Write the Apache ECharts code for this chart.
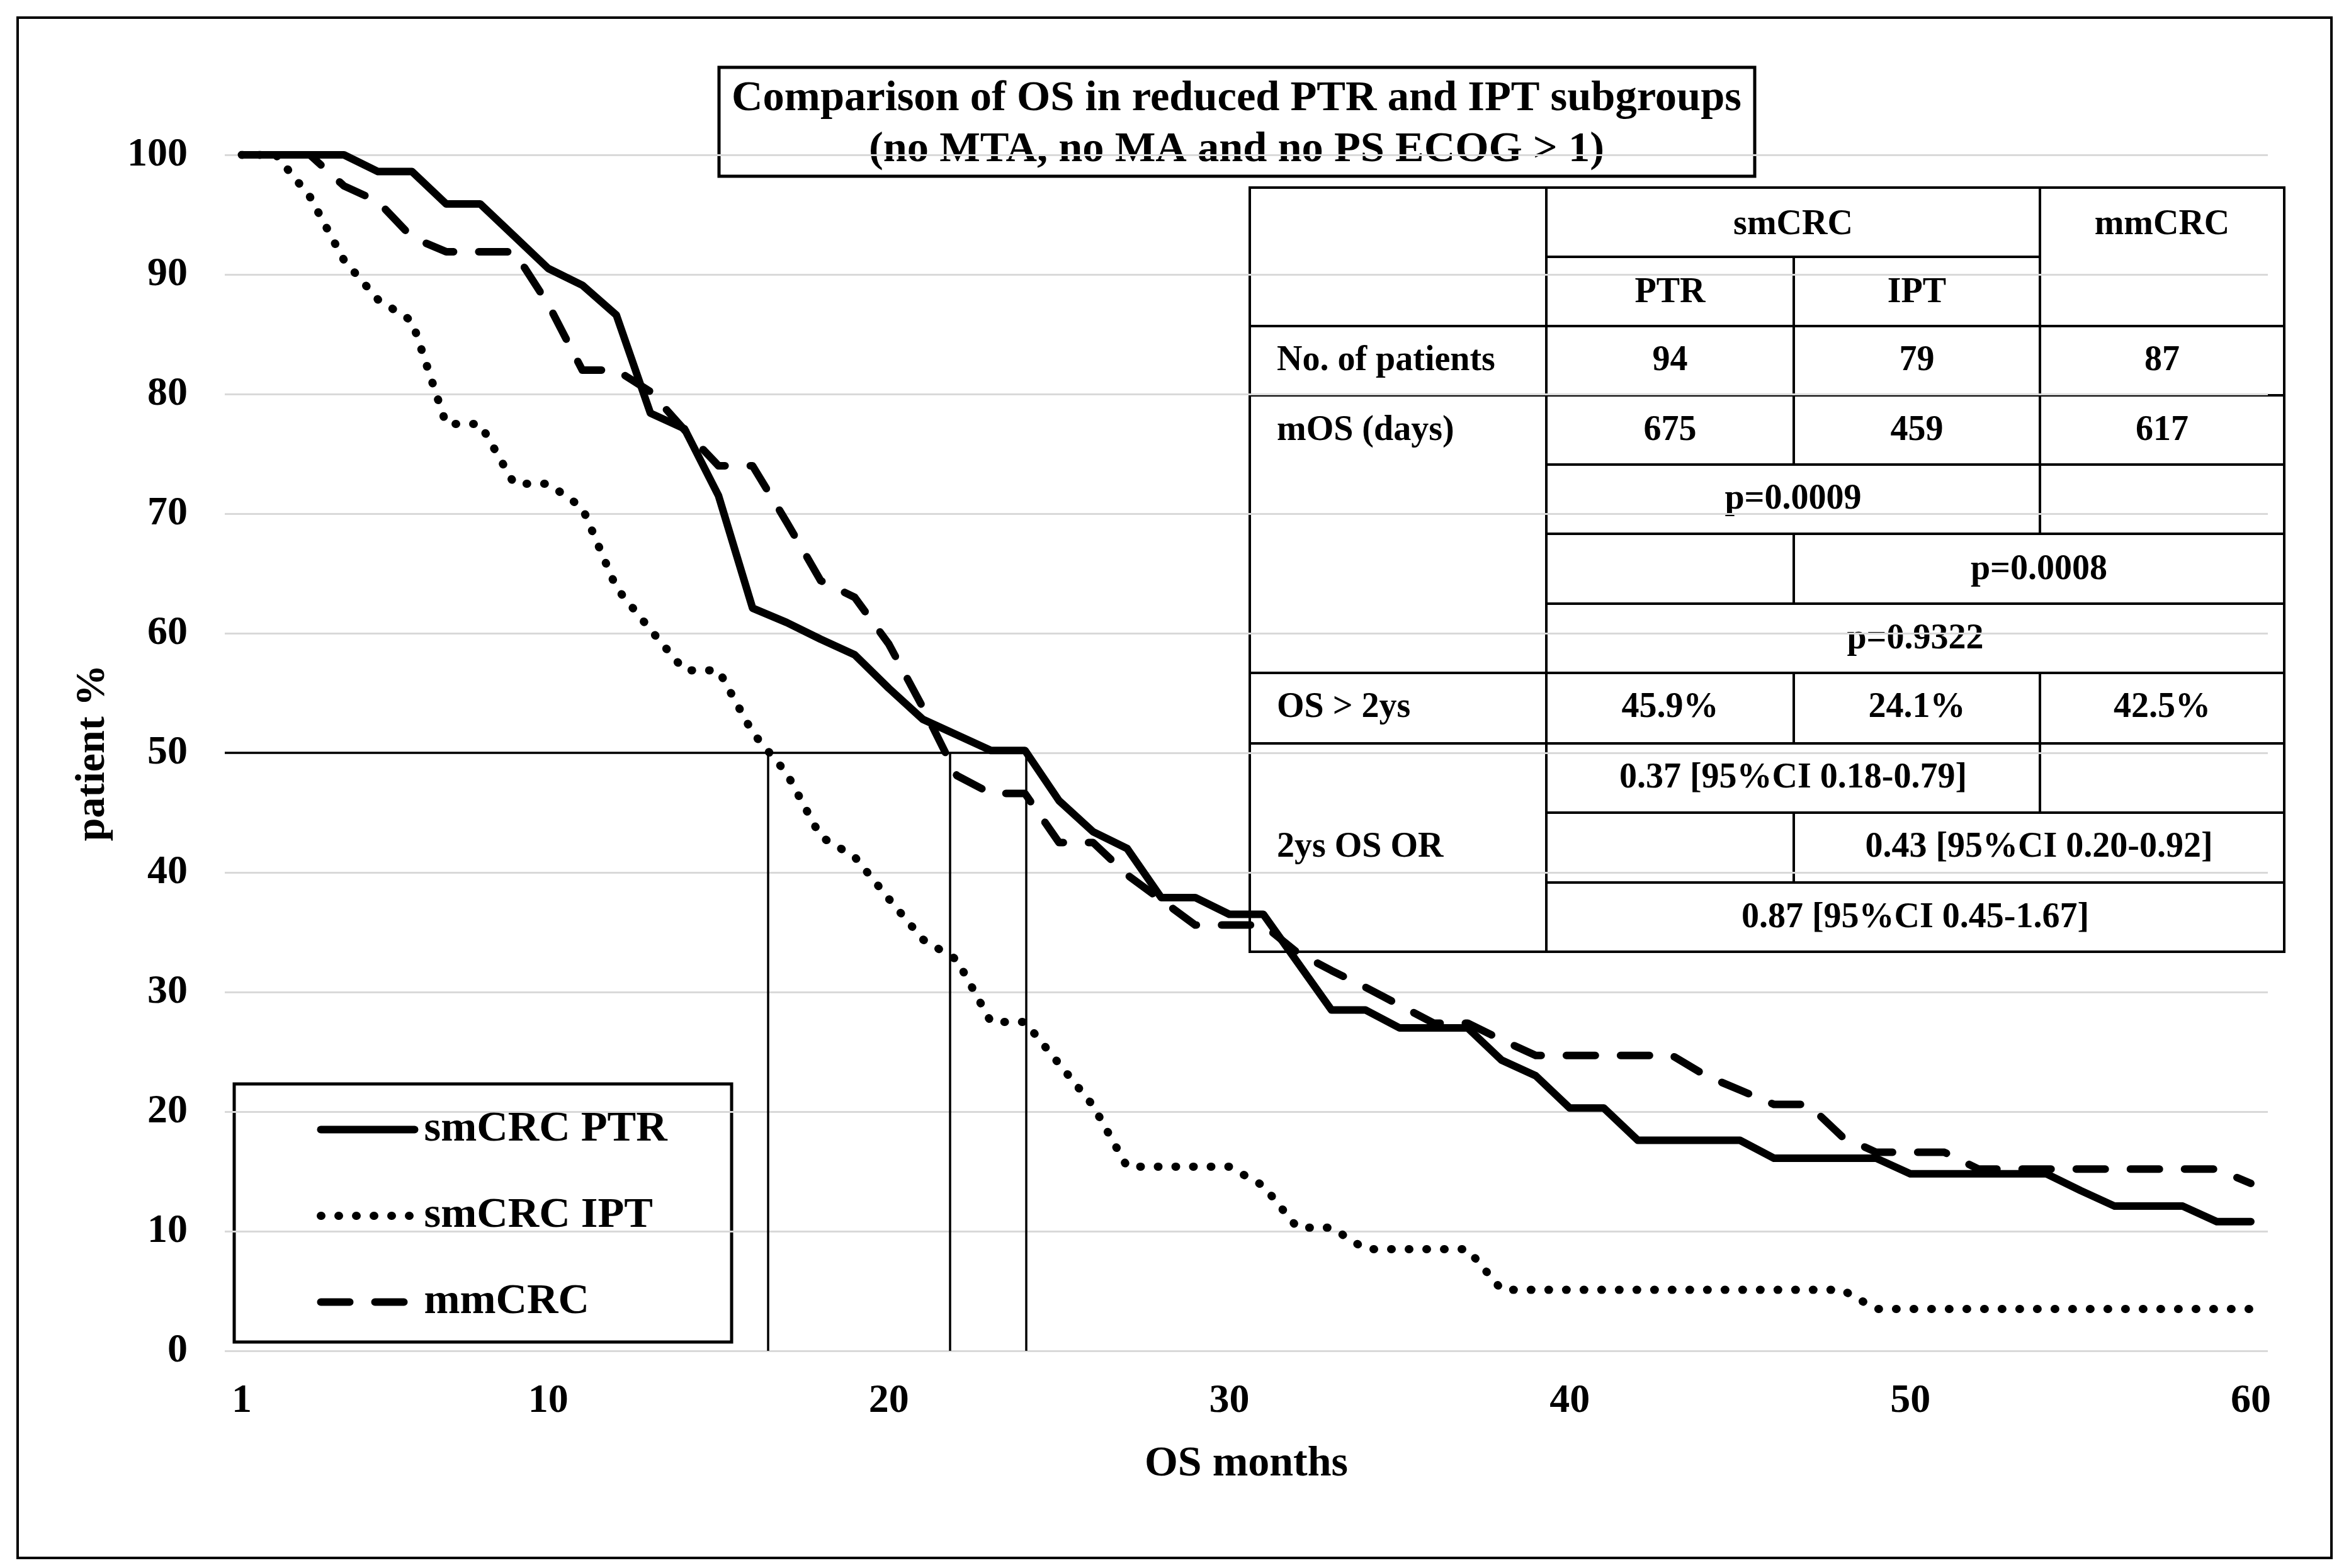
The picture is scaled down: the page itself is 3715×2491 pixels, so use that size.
<!DOCTYPE html>
<html>
<head>
<meta charset="utf-8">
<script src="https://cdn.jsdelivr.net/npm/echarts@6/dist/echarts.min.js"></script>
<style>
html,body{margin:0;padding:0;background:#fff;}
#chart{width:3715px;height:2491px;}
</style>
</head>
<body>
<div id="chart"></div>
<script>
// ---------- data ----------
const months = [1,2,3,4,5,6,7,8,9,10,11,12,13,14,15,16,17,18,19,20,21,22,23,24,25,26,27,28,29,30,
                31,32,33,34,35,36,37,38,39,40,41,42,43,44,45,46,47,48,49,50,51,52,53,54,55,56,57,58,59,60];
const smcrcPTR = [100,100,100,100,98.6,98.6,95.9,95.9,93.2,90.5,89.1,86.6,78.4,77.1,71.5,62.1,60.9,59.5,58.2,55.4,
                  52.8,51.5,50.2,50.2,46.0,43.4,42.0,37.9,37.9,36.5,36.5,32.5,28.5,28.5,27.0,27.0,27.0,24.3,23.0,20.3,
                  20.3,17.6,17.6,17.6,17.6,16.1,16.1,16.1,16.1,14.8,14.8,14.8,14.8,14.8,13.4,12.1,12.1,12.1,10.8,10.8];
const smcrcIPT = [100,100,96.5,91.2,87.9,86.1,77.5,77.5,72.5,72.5,70.5,63.8,60.3,56.9,56.9,51.7,48.3,43.0,41.3,37.8,
                  34.4,32.7,27.5,27.5,24.0,20.5,15.4,15.4,15.4,15.4,13.8,10.3,10.3,8.5,8.5,8.5,8.5,5.1,5.1,5.1,
                  5.1,5.1,5.1,5.1,5.1,5.1,5.1,5.1,3.5,3.5,3.5,3.5,3.5,3.5,3.5,3.5,3.5,3.5,3.5,3.5];
const mmcrc = [100,100,100,97.4,96.1,93.1,91.9,91.9,91.9,87.5,82.0,82.0,80.2,77.0,74.0,74.0,69.3,64.4,63.0,59.1,
               53.8,48.1,46.6,46.6,42.5,42.5,39.8,37.7,35.6,35.6,35.6,33.3,31.8,30.4,28.9,27.4,27.4,26.0,24.7,24.7,
               24.7,24.7,24.7,23.0,21.8,20.6,20.6,17.9,16.6,16.6,16.6,15.2,15.2,15.2,15.2,15.2,15.2,15.2,15.2,14.0];
const xTickLabels = [1,10,20,30,40,50,60];
const medianMonths = [16.45, 21.8, 24.04];
const medianLevel = 50;

const titleLines = ['Comparison of OS in reduced PTR and IPT subgroups', '(no MTA, no MA and no PS ECOG > 1)'];
const groupHeads = ['smCRC', 'mmCRC'];
const subHeads = ['PTR', 'IPT'];
const rowLabels = ['No. of patients', 'mOS (days)', 'OS > 2ys', '2ys OS OR'];
const nPatients = [94, 79, 87];
const mosDays = [675, 459, 617];
const pValues = ['p=0.0009', 'p=0.0008', 'p=0.9322'];
const os2ys = ['45.9%', '24.1%', '42.5%'];
const orValues = ['0.37 [95%CI 0.18-0.79]', '0.43 [95%CI 0.20-0.92]', '0.87 [95%CI 0.45-1.67]'];

// ---------- drawing ----------
const FONT = '"Liberation Serif","Times New Roman",serif';
const DOTS = [1, 27];
const DASHES = [46, 40];
const els = [];
function gLine(x1, y1, x2, y2, w) {
  els.push({type:'line', z:-5, silent:true, shape:{x1:x1, y1:y1, x2:x2, y2:y2},
            style:{stroke:'#000', lineWidth:w}});
}
function gRect(x, y, w, h, lw) {
  els.push({type:'rect', z:-5, silent:true, shape:{x:x, y:y, width:w, height:h},
            style:{fill:'none', stroke:'#000', lineWidth:lw}});
}
function gText(t, x, y, size, align) {
  els.push({type:'text', z:-5, silent:true,
            style:{text:String(t), x:x, y:y, fill:'#000', font:'bold ' + size + 'px ' + FONT,
                   textAlign:align || 'center', textVerticalAlign:'middle',
                   align:align || 'center', verticalAlign:'middle'}});
}

// outer frame
gRect(28, 28, 3675, 2447, 4);
// title box
gRect(1142, 107, 1645, 173, 5);
gText(titleLines[0], 1964, 157, 68.5);
gText(titleLines[1], 1964, 238, 68.5);
// legend box
gRect(372, 1722, 790, 410, 5);

// table
const X = [1985, 2456, 2849, 3240, 3628];
const Y = [298, 408, 518, 628, 738, 848, 959, 1069, 1181, 1291, 1402, 1512];
const TW = 4;
gRect(X[0], Y[0], X[4] - X[0], Y[11] - Y[0], TW);
gLine(X[1], Y[1], X[3], Y[1], TW);
[2, 3, 7, 8].forEach(function (r) { gLine(X[0], Y[r], X[4], Y[r], TW); });
[4, 5, 6, 9, 10].forEach(function (r) { gLine(X[1], Y[r], X[4], Y[r], TW); });
gLine(X[1], Y[0], X[1], Y[11], TW);
gLine(X[2], Y[1], X[2], Y[4], TW);
gLine(X[2], Y[5], X[2], Y[6], TW);
gLine(X[2], Y[7], X[2], Y[8], TW);
gLine(X[2], Y[9], X[2], Y[10], TW);
gLine(X[3], Y[0], X[3], Y[5], TW);
gLine(X[3], Y[7], X[3], Y[9], TW);

const TS = 56;
const cx = [(X[1] + X[2]) / 2, (X[2] + X[3]) / 2, (X[3] + X[4]) / 2];
const c12 = (X[1] + X[3]) / 2, c23 = (X[2] + X[4]) / 2, c13 = (X[1] + X[4]) / 2;
const LX = 2028;
gText(groupHeads[0], c12, 358, TS);
gText(groupHeads[1], cx[2], 358, TS);
gText(subHeads[0], cx[0], 466, TS);
gText(subHeads[1], cx[1], 466, TS);
gText(rowLabels[0], LX, 574, TS, 'left');
nPatients.forEach(function (v, i) { gText(v, cx[i], 574, TS); });
gText(rowLabels[1], LX, 685, TS, 'left');
mosDays.forEach(function (v, i) { gText(v, cx[i], 685, TS); });
gText(pValues[0], c12, 794, TS);
gText(pValues[1], c23, 906, TS);
gText(pValues[2], c13, 1016, TS);
gText(rowLabels[2], LX, 1125, TS, 'left');
os2ys.forEach(function (v, i) { gText(v, cx[i], 1125, TS); });
gText(rowLabels[3], LX, 1347, TS, 'left');
gText(orValues[0], c12, 1237, TS);
gText(orValues[1], c23, 1347, TS);
gText(orValues[2], c13, 1459, TS);

function pairs(arr) { return months.map(function (m, i) { return [m, arr[i]]; }); }

const medianLines = [[{coord:[0.5, medianLevel]}, {coord:[medianMonths[2], medianLevel]}]]
  .concat(medianMonths.map(function (m) { return [{coord:[m, medianLevel]}, {coord:[m, 0]}]; }));

const chart = echarts.init(document.getElementById('chart'), null, {renderer:'canvas'});
chart.setOption({
  animation: false,
  backgroundColor: '#fff',
  color: ['#000', '#000', '#000'],
  grid: {left:357, right:113, top:246, bottom:345, containLabel:false},
  xAxis: {
    type:'value', min:0.5, max:60.5, interval:0.5,
    name:'OS months', nameLocation:'middle', nameGap:146,
    nameTextStyle:{fontFamily:FONT, fontWeight:'bold', fontSize:68, color:'#000'},
    axisLine:{show:false}, axisTick:{show:false}, splitLine:{show:false},
    axisLabel:{
      formatter:function (v) { return xTickLabels.indexOf(v) >= 0 ? String(v) : ''; },
      fontFamily:FONT, fontWeight:'bold', fontSize:64, color:'#000', margin:48
    }
  },
  yAxis: {
    type:'value', min:0, max:100, interval:10,
    name:'patient %', nameLocation:'middle', nameGap:176, nameRotate:90,
    nameTextStyle:{fontFamily:FONT, fontWeight:'bold', fontSize:66, color:'#000'},
    axisLine:{show:false}, axisTick:{show:false},
    splitLine:{show:true, lineStyle:{color:'#d9d9d9', width:3}},
    axisLabel:{fontFamily:FONT, fontWeight:'bold', fontSize:64, color:'#000', margin:59}
  },
  legend: {
    orient:'vertical', left:503, top:1760, padding:0,
    itemWidth:149, itemHeight:66, itemGap:68,
    selectedMode:false,
    itemStyle:{opacity:0},
    lineStyle:{width:12, color:'#000', cap:'round', opacity:1},
    textStyle:{fontFamily:FONT, fontWeight:'bold', fontSize:68.5, color:'#000', padding:[0,0,0,10]},
    data:[
      {name:'smCRC PTR', lineStyle:{type:'solid', width:12, cap:'round'}},
      {name:'smCRC IPT', lineStyle:{type:DOTS, width:13, cap:'round'}},
      {name:'mmCRC', lineStyle:{type:DASHES, width:12, cap:'round'}}
    ]
  },
  series: [
    {
      name:'smCRC PTR', type:'line', data:pairs(smcrcPTR), symbol:'none', z:4,
      itemStyle:{color:'#000'},
      lineStyle:{color:'#000', width:12, cap:'round', join:'round'},
      markLine:{
        silent:true, symbol:['none','none'], label:{show:false},
        lineStyle:{color:'#000', width:3.5, type:'solid'},
        emphasis:{disabled:true},
        data: medianLines
      }
    },
    {
      name:'smCRC IPT', type:'line', data:pairs(smcrcIPT), symbol:'none', z:3,
      itemStyle:{color:'#000'},
      lineStyle:{color:'#000', width:13, type:DOTS, cap:'round', join:'round'}
    },
    {
      name:'mmCRC', type:'line', data:pairs(mmcrc), symbol:'none', z:3,
      itemStyle:{color:'#000'},
      lineStyle:{color:'#000', width:12, type:DASHES, cap:'round', join:'round'}
    }
  ],
  graphic: {elements: els}
});
</script>
</body>
</html>
